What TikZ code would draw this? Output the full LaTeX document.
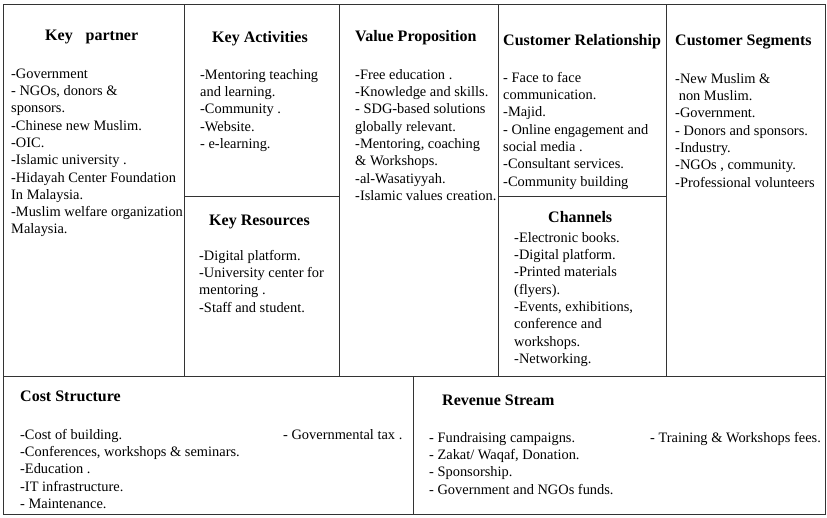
\documentclass[tikz,border=0pt]{standalone}
\usepackage{fontspec}
\setmainfont{Liberation Serif}
\newcommand\fstrut{\rule{0pt}{11pt}}
\begin{document}
\begin{tikzpicture}[x=1pt,y=-1pt,
  gridline/.style={draw=black!80, line width=0.9pt},
  hd/.style={anchor=base west, inner sep=0pt, font=\fontsize{16}{19}\selectfont\bfseries},
  body/.style={anchor=north west, inner sep=0pt, align=left, font=\fontsize{14.4}{17.3}\selectfont},
  one/.style={anchor=base west, inner sep=0pt, font=\fontsize{14.4}{17.3}\selectfont}]
\useasboundingbox[fill=white] (0,0) rectangle (827,517);
% grid
\draw[gridline] (3,4) rectangle (825,514);
\draw[gridline] (3,376) -- (825,376);
\draw[gridline] (184,4) -- (184,376);
\draw[gridline] (339,4) -- (339,376);
\draw[gridline] (498,4) -- (498,376);
\draw[gridline] (666,4) -- (666,376);
\draw[gridline] (184,196) -- (339,196);
\draw[gridline] (498,196) -- (666,196);
\draw[gridline] (413,376) -- (413,514);
% headings
\node[hd] (hkp) at (45,40) {Key\hspace{13pt}partner};
\node[hd] (hka) at (212,42) {Key Activities};
\node[hd] (hkr) at (209,225) {Key Resources};
\node[hd] (hvp) at (355,41) {Value Proposition};
\node[hd] (hcr) at (503,45) {Customer Relationship};
\node[hd] (hch) at (548,222) {Channels};
\node[hd] (hcs) at (675,45) {Customer Segments};
\node[hd] (hco) at (20,401) {Cost Structure};
\node[hd] (hrs) at (442,405) {Revenue Stream};
% bodies
\node[body] (bkp) at (11,67) {\fstrut-Government\\- NGOs, donors \&\\sponsors.\\-Chinese new Muslim.\\-OIC.\\-Islamic university .\\-Hidayah Center Foundation\\In Malaysia.\\-Muslim welfare organization\\Malaysia.};
\node[body] (bka) at (200,68) {\fstrut-Mentoring teaching\\and learning.\\-Community .\\-Website.\\- e-learning.};
\node[body] (bkr) at (199,249) {\fstrut-Digital platform.\\-University center for\\mentoring .\\-Staff and student.};
\node[body] (bvp) at (355,68) {\fstrut-Free education .\\-Knowledge and skills.\\- SDG-based solutions\\globally relevant.\\-Mentoring, coaching\\\& Workshops.\\-al-Wasatiyyah.\\-Islamic values creation.};
\node[body] (bcr) at (503,71) {\fstrut- Face to face\\communication.\\-Majid.\\- Online engagement and\\social media .\\-Consultant services.\\-Community building};
\node[body] (bch) at (514,231) {\fstrut-Electronic books.\\-Digital platform.\\-Printed materials\\(flyers).\\-Events, exhibitions,\\conference and\\workshops.\\-Networking.};
\node[body] (bcs) at (675,72) {\fstrut-New Muslim \&\\\hspace*{3.6pt}non Muslim.\\-Government.\\- Donors and sponsors.\\-Industry.\\-NGOs , community.\\-Professional volunteers};
\node[body] (bco) at (20,428) {\fstrut-Cost of building.\\-Conferences, workshops \& seminars.\\-Education .\\-IT infrastructure.\\- Maintenance.};
\node[one] (bgt) at (283,439) {- Governmental tax .};
\node[body] (brs) at (429,431) {\fstrut- Fundraising campaigns.\\- Zakat/ Waqaf, Donation.\\- Sponsorship.\\- Government and NGOs funds.};
\node[one] (btw) at (650,442) {- Training \& Workshops fees.};
\end{tikzpicture}
\end{document}
